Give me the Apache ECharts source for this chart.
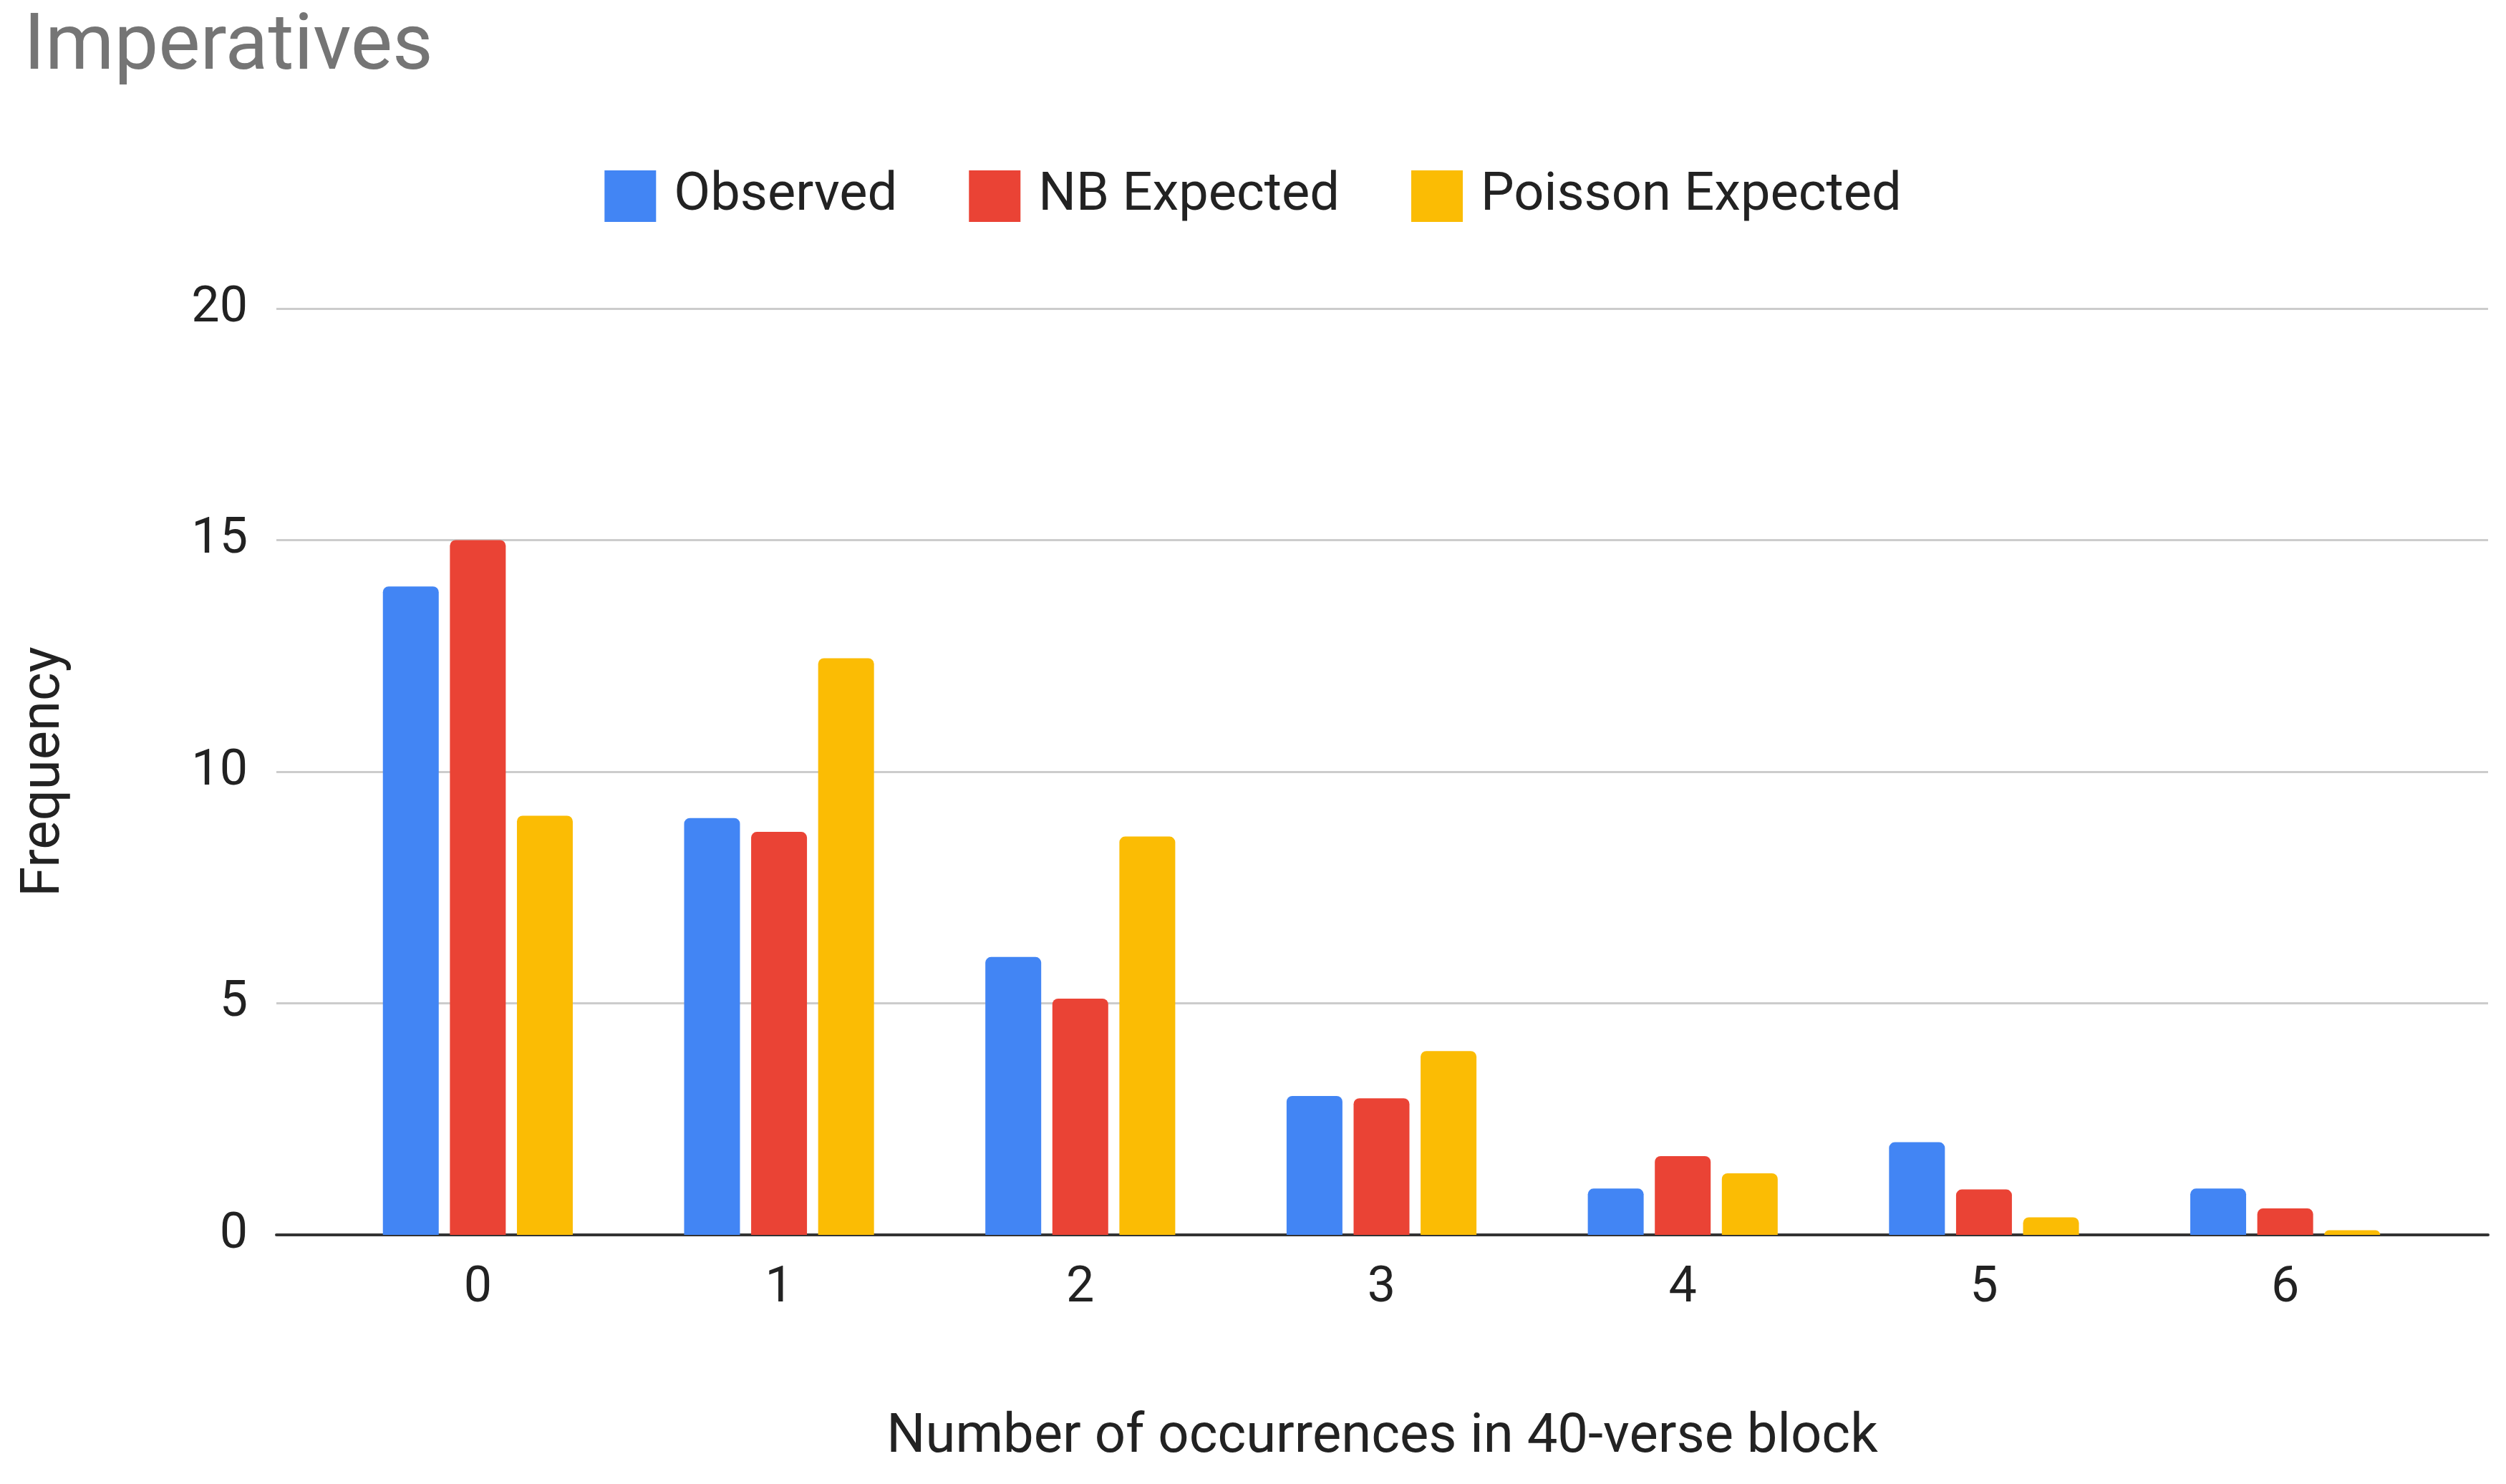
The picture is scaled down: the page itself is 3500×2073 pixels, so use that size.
<!DOCTYPE html>
<html><head><meta charset="utf-8">
<script src="https://cdn.jsdelivr.net/npm/echarts@6/dist/echarts.min.js"></script>
<style>html,body{margin:0;padding:0;background:#fff}#c{width:3500px;height:2073px}</style>
</head><body><div id="c"></div>
<script>
const categories = ['0','1','2','3','4','5','6'];
const observed = [14, 9, 6, 3, 1, 2, 1];
const nbExpected = [15, 8.7, 5.1, 2.95, 1.7, 0.98, 0.57];
const poissonExpected = [9.05, 12.45, 8.6, 3.97, 1.33, 0.38, 0.1];

const chart = echarts.init(document.getElementById('c'));
const font = 'Roboto, Arial, sans-serif';
const mk = (name, data, color) => ({name, type:'bar', xAxisIndex:1, yAxisIndex:1, data, barWidth:78, barGap:'20%',
  itemStyle:{color, borderRadius:[8,8,0,0]}});
chart.setOption({
  animation:false,
  title:{text:'Imperatives', left:28, top:8, textStyle:{fontFamily:font, fontSize:110, fontWeight:'normal', color:'#757575'}},
  legend:{top:232, left:'center', itemWidth:72, itemHeight:72, itemGap:100, icon:'rect',
    textStyle:{fontFamily:font, fontSize:74, color:'#222', padding:[0,0,0,20]}},
  grid:[{left:386, right:25, top:431, bottom:348},{left:457, right:98, top:431, bottom:348}],
  xAxis:[
    {type:'category', gridIndex:0, data:[''], axisLine:{lineStyle:{color:'#333', width:4}}, axisTick:{show:false}, axisLabel:{show:false},
     name:'Number of occurrences in 40-verse block', nameLocation:'middle', nameGap:246,
     nameTextStyle:{fontFamily:font, fontSize:76, color:'#222'}},
    {type:'category', gridIndex:1, data:categories, axisLine:{show:false}, axisTick:{show:false},
     axisLabel:{fontFamily:font, fontSize:70, color:'#222', margin:40}}
  ],
  yAxis:[
    {type:'value', gridIndex:0, min:0, max:20, interval:5, name:'Frequency', nameLocation:'middle', nameGap:285,
     nameTextStyle:{fontFamily:font, fontSize:76, color:'#222'},
     axisLabel:{fontFamily:font, fontSize:70, color:'#222', margin:40},
     splitLine:{lineStyle:{color:'#ccc', width:3}}},
    {type:'value', gridIndex:1, min:0, max:20, interval:5, show:false, splitLine:{show:false}}
  ],
  series:[mk('Observed', observed, '#4285F4'), mk('NB Expected', nbExpected, '#EA4335'), mk('Poisson Expected', poissonExpected, '#FBBC04')]
});
</script></body></html>
